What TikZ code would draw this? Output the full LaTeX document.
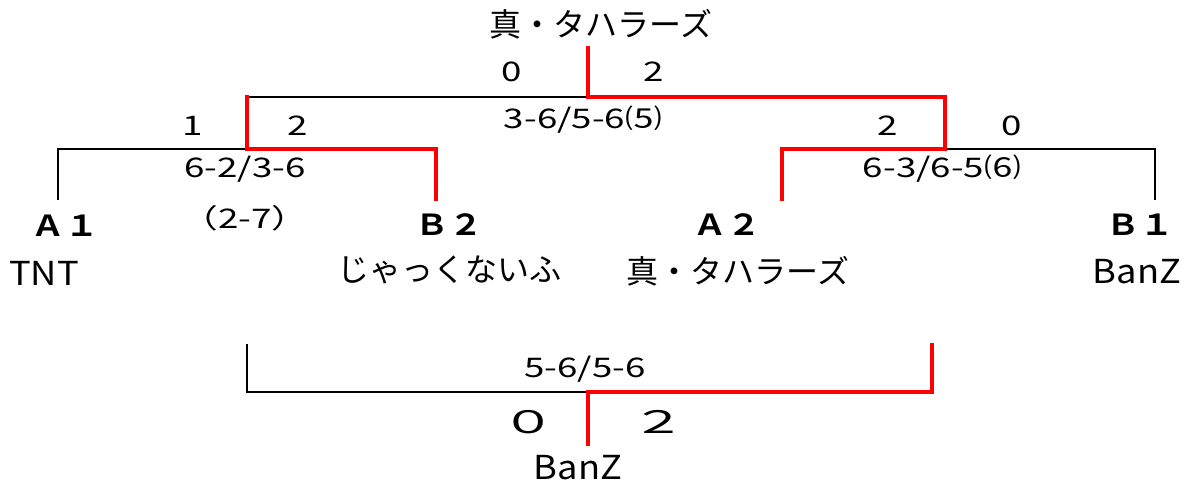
\documentclass[tikz,border=0pt]{standalone}
\usepackage{fontspec}
\setmainfont{Noto Sans CJK JP}
\newfontfamily\numf{Noto Sans CJK JP}[FakeStretch=1.36]
\newfontfamily\latf{Noto Sans CJK JP}[FakeStretch=1.1]
\newfontfamily\seedf{Noto Sans CJK JP Bold}[FakeStretch=1.15]
\newfontfamily\seedr{Noto Sans CJK JP}[FakeStretch=1.75]
\begin{document}
\begin{tikzpicture}[x=1pt,y=-1pt,
  blk/.style={line width=2.6pt,black,line cap=rect},
  redl/.style={line width=4pt,red,line cap=rect,line join=miter},
  jp/.style={font=\fontsize{32}{34}\selectfont,inner sep=0pt},
  lat/.style={font=\fontsize{33}{35}\selectfont\latf,inner sep=0pt},
  num/.style={font=\fontsize{27}{29}\selectfont\numf,inner sep=0pt},
  seed/.style={font=\fontsize{29}{31}\selectfont\seedf,inner sep=0pt},
  score/.style={font=\fontsize{31}{33}\selectfont\seedr,inner sep=0pt}]
\useasboundingbox (0,0) rectangle (1204,488);
% bracket points
\coordinate (ftop) at (588,48);
\coordinate (fL) at (247,97);
\coordinate (fM) at (588,97);
\coordinate (fR) at (945,97);
\coordinate (sL) at (247,149);
\coordinate (a1c) at (58,149);
\coordinate (a1b) at (58,199);
\coordinate (b2c) at (436,149);
\coordinate (b2b) at (436,199);
\coordinate (sR) at (945,149);
\coordinate (a2c) at (782,149);
\coordinate (a2b) at (782,199);
\coordinate (b1c) at (1155,149);
\coordinate (b1b) at (1155,199);
\coordinate (tL) at (247,345);
\coordinate (tLc) at (247,392);
\coordinate (tM) at (588,392);
\coordinate (tRc) at (932,392);
\coordinate (tR) at (932,345);
\coordinate (tB) at (588,444);
% black lines
\draw[blk] (fL) -- (fM);
\draw[blk] (a1b) -- (a1c) -- (sL);
\draw[blk] (sR) -- (b1c) -- (b1b);
\draw[blk] (tL) -- (tLc) -- (tM);
% red (winner) lines
\draw[redl] (fL) -- (sL) -- (b2c) -- (b2b);
\draw[redl] (ftop) -- (fM) -- (fR) -- (sR) -- (a2c) -- (a2b);
\draw[redl] (tR) -- (tRc) -- (tM) -- (tB);
% texts
\node[jp] (champ) at (601,24) {真・タハラーズ};
\node[num] (f0) at (512,72) {0};
\node[num] (f2) at (654,72) {2};
\node[num] (fs) at (583,120) {3-6/5-6⑸};
\node[num] (l1) at (193,126) {1};
\node[num] (l2) at (298,126) {2};
\node[num] (r2) at (888,126) {2};
\node[num] (r0) at (1012,126) {0};
\node[num] (ls) at (245,169) {6-2/3-6};
\node[num] (rs) at (942,169) {6-3/6-5⑹};
\node[num] (lx) at (245,218) {（2-7）};
\node[seed] (a1) at (65,226) {Ａ１};
\node[seed] (b2) at (449,225) {Ｂ２};
\node[seed] (a2) at (727,225) {Ａ２};
\node[seed] (b1) at (1140,225) {Ｂ１};
\node[lat] (tnt) at (44,273) {TNT};
\node[jp] (jack) at (449,270) {じゃっくないふ};
\node[jp] (taha) at (738,271) {真・タハラーズ};
\node[lat] (banz) at (1137,272) {BanZ};
\node[num] (ts) at (585,369) {5-6/5-6};
\node[score] (t0) at (529,422) {０};
\node[score] (t2) at (659,422) {２};
\node[lat] (banz2) at (578,468) {BanZ};
\end{tikzpicture}
\end{document}
